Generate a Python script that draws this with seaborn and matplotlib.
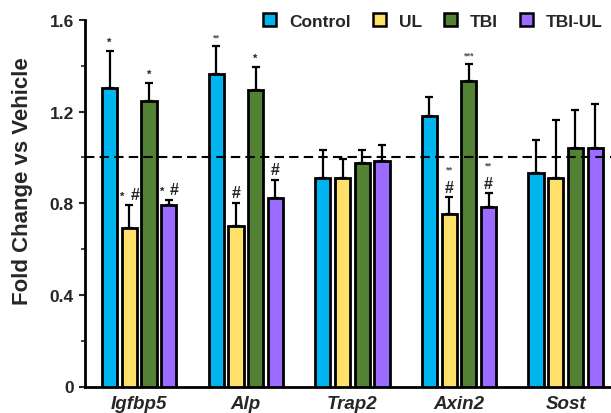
import matplotlib
matplotlib.use("Agg")
import matplotlib.pyplot as plt
import seaborn as sns
import pandas as pd
import numpy as np
from matplotlib.patches import Patch
from matplotlib.ticker import MultipleLocator

genes = ["Igfbp5", "Alp", "Trap2", "Axin2", "Sost"]
groups = ["Control", "UL", "TBI", "TBI-UL"]
colors = ["#00B4F0", "#FFE06B", "#548235", "#9C6BFF"]

# mean fold change per gene, one list per group
control = [1.304, 1.366, 0.912, 1.181, 0.932]
ul = [0.693, 0.700, 0.912, 0.751, 0.912]
tbi = [1.245, 1.296, 0.974, 1.333, 1.043]
tbi_ul = [0.791, 0.824, 0.985, 0.783, 1.043]

# upper error (SEM) per gene
control_err = [0.162, 0.120, 0.122, 0.082, 0.143]
ul_err = [0.101, 0.100, 0.080, 0.075, 0.253]
tbi_err = [0.078, 0.097, 0.060, 0.074, 0.163]
tbi_ul_err = [0.023, 0.079, 0.071, 0.060, 0.191]

# significance marks: (stars, hash) per gene for each group
control_sig = [("*", ""), ("**", ""), ("", ""), ("", ""), ("", "")]
ul_sig = [("*", "#"), ("", "#"), ("", ""), ("**", "#"), ("", "")]
tbi_sig = [("*", ""), ("*", ""), ("", ""), ("***", ""), ("", "")]
tbi_ul_sig = [("*", "#"), ("", "#"), ("", ""), ("**", "#"), ("", "")]

means = [control, ul, tbi, tbi_ul]
errs = [control_err, ul_err, tbi_err, tbi_ul_err]
sigs = [control_sig, ul_sig, tbi_sig, tbi_ul_sig]

rows = []
for g, vals in zip(groups, means):
    for gene, v in zip(genes, vals):
        rows.append({"Gene": gene, "Group": g, "Fold": v})
df = pd.DataFrame(rows)

sns.set_theme(style="ticks")
plt.rcParams["font.family"] = ["Liberation Sans", "DejaVu Sans"]
plt.rcParams["font.weight"] = "bold"

fig = plt.figure(figsize=(6.11, 4.14), dpi=100)
ax = fig.add_axes([85 / 611, 1 - 387.5 / 414, 1 - 85 / 611 + 0.01, (387.5 - 21) / 414])

sns.barplot(data=df, x="Gene", y="Fold", hue="Group", order=genes,
            hue_order=groups, palette=colors, width=0.74, gap=0.23,
            edgecolor="black", linewidth=2.0, errorbar=None, legend=False,
            saturation=1, ax=ax, zorder=3)

star_kw = dict(textcoords="offset points", ha="center", va="bottom")
hash_kw = dict(textcoords="offset points", ha="center", va="bottom",
               fontsize=11.5, fontweight="bold")

bars = [p for p in ax.patches]
for gi in range(len(groups)):
    for ci in range(len(genes)):
        p = bars[gi * len(genes) + ci]
        xc = p.get_x() + p.get_width() / 2
        top = p.get_height()
        e = errs[gi][ci]
        ax.errorbar([xc], [top], yerr=[[0], [e]], fmt="none", ecolor="black",
                    elinewidth=1.6, capsize=3, capthick=1.6, zorder=2)
        stars, hsh = sigs[gi][ci]
        ytop = top + e
        single = stars == "*"
        s_size = 8 if single else 6.5
        s_col = "#222222" if single else "#555555"
        if stars and hsh and ci == 0:
            ax.annotate(stars, (xc, ytop), xytext=(-5, 3), fontsize=s_size,
                        color=s_col, **star_kw)
            ax.annotate(hsh, (xc, ytop), xytext=(4, 2), **hash_kw)
        elif stars and hsh:
            ax.annotate(hsh, (xc, ytop), xytext=(0, 2), **hash_kw)
            ax.annotate(stars, (xc, ytop), xytext=(0, 17), fontsize=s_size,
                        color=s_col, **star_kw)
        elif hsh:
            ax.annotate(hsh, (xc, ytop), xytext=(0, 2), **hash_kw)
        elif stars:
            ax.annotate(stars, (xc, ytop), xytext=(0, 3), fontsize=s_size,
                        color=s_col, **star_kw)

ax.axhline(1.0, color="black", linestyle=(0, (4.5, 2.5)), linewidth=1.5, zorder=4)

ax.set_ylim(0, 1.6)
ax.set_xlim(-0.508, 4.483)
ax.yaxis.set_major_locator(MultipleLocator(0.4))
ax.yaxis.set_minor_locator(MultipleLocator(0.2))
ax.set_yticks([0, 0.4, 0.8, 1.2, 1.6])
ax.set_yticklabels(["0", "0.4", "0.8", "1.2", "1.6"], fontsize=12.5, fontweight="bold")
ax.tick_params(axis="y", which="major", length=4, width=1.5, direction="out", pad=4)
ax.tick_params(axis="y", which="minor", length=3, width=1.2, direction="out")
ax.tick_params(axis="x", length=0, pad=6)
for lab in ax.get_xticklabels():
    lab.set_fontsize(13.5)
    lab.set_fontweight("bold")
    lab.set_fontstyle("italic")
ax.set_xlabel("")
ax.set_ylabel("")
for s in ["top", "right"]:
    ax.spines[s].set_visible(False)
for s in ["left", "bottom"]:
    ax.spines[s].set_linewidth(2.0)
    ax.spines[s].set_color("black")

fig.text(23 / 611, 1 - 181 / 414, "Fold Change vs Vehicle", rotation=90,
         ha="center", va="center", fontsize=16, fontweight="bold")

handles = [Patch(facecolor=c, edgecolor="black", linewidth=1.8, label=g)
           for c, g in zip(colors, groups)]
fig.legend(handles=handles, loc="center", bbox_to_anchor=(433 / 611, 1 - 22 / 414),
           ncol=4, frameon=False, fontsize=12.5, handlelength=0.75, handleheight=0.8,
           handletextpad=0.75, columnspacing=1.26, borderpad=0, borderaxespad=0)

fig.savefig("out.png", dpi=100)
